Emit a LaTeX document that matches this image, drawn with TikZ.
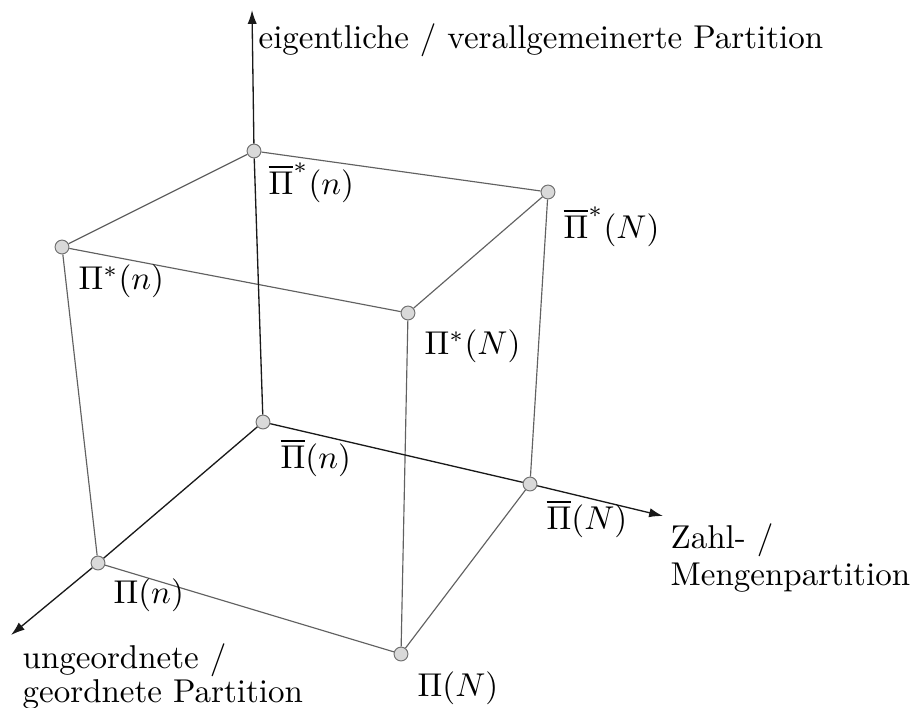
\documentclass[tikz,border=0pt]{standalone}
\usetikzlibrary{arrows.meta,backgrounds}
\begin{document}
\begin{tikzpicture}[x=0.303pt,y=-0.303pt,
  vtx/.style={circle,draw=black!55,fill=black!15,line width=0.3pt,inner sep=0pt,minimum size=4.2pt},
  edge/.style={draw=black!62,line width=0.35pt},
  axis/.style={draw=black!90,line width=0.4pt,-{Latex[length=4.2pt,width=2.8pt]}},
  lbl/.style={anchor=base west,inner sep=0pt},
  ax/.style={anchor=north west,inner sep=0pt,align=left},
  ]
\useasboundingbox (0,0) rectangle (919,707);
% vertices
\node[vtx] (tn) at (254,151) {};
\node[vtx] (tN) at (548,192) {};
\node[vtx] (sn) at (62,247) {};
\node[vtx] (sN) at (408,313) {};
\node[vtx] (bn) at (263,422) {};
\node[vtx] (bN) at (530,484) {};
\node[vtx] (pn) at (98,563) {};
\node[vtx] (pN) at (401,654) {};
% axis ends
\coordinate (ztip) at (252,10);
\coordinate (xtip) at (663,516);
\coordinate (ytip) at (11,635);
% labels
\node[lbl] (lz) at (258,48) {eigentliche / verallgemeinerte Partition};
\node[ax] (lx) at (670,523) {Zahl- /\\[-0.8pt]Mengenpartition};
\node[ax] (ly) at (22,643) {ungeordnete /\\[-1.7pt]geordnete Partition};
\node[lbl] (ltn) at (268,194) {$\overline{\Pi}^*(n)$};
\node[lbl] (ltN) at (563,238) {$\overline{\Pi}^*(N)$};
\node[lbl] (lsn) at (78,289) {$\Pi^*(n)$};
\node[lbl] (lsN) at (424,354) {$\Pi^*(N)$};
\node[lbl] (lbn) at (280,468) {$\overline{\Pi}(n)$};
\node[lbl] (lbN) at (546,529) {$\overline{\Pi}(N)$};
\node[lbl] (lpn) at (113,603) {$\Pi(n)$};
\node[lbl] (lpN) at (417,696) {$\Pi(N)$};
\begin{scope}[on background layer]
  % cube edges
  \draw[edge] (tn) -- (tN);
  \draw[edge] (tn) -- (sn);
  \draw[edge] (sn) -- (sN);
  \draw[edge] (sN) -- (tN);
  \draw[edge] (sn) -- (pn);
  \draw[edge] (sN) -- (pN);
  \draw[edge] (tN) -- (bN);
  \draw[edge] (pn) -- (pN);
  \draw[edge] (pN) -- (bN);
  % axes
  \draw[axis] (bn) -- (tn) -- (ztip);
  \draw[axis] (bn) -- (bN) -- (xtip);
  \draw[axis] (bn) -- (pn) -- (ytip);
\end{scope}
\end{tikzpicture}
\end{document}
